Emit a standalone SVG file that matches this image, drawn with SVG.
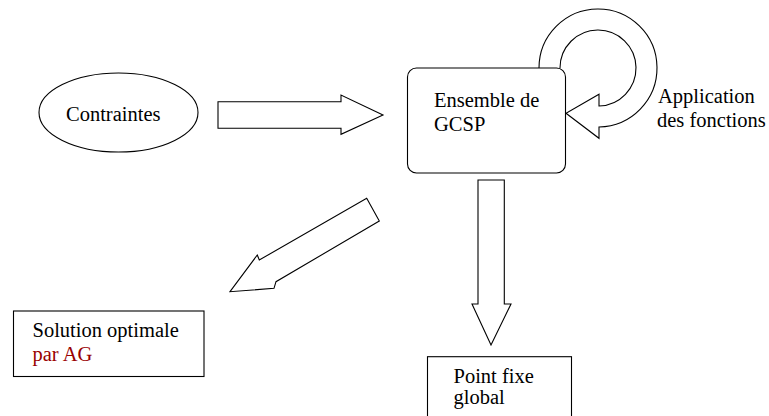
<svg xmlns="http://www.w3.org/2000/svg" width="769" height="416" viewBox="0 0 769 416">
<style>
.s{fill:#fff;stroke:#000;stroke-width:1.1}
.t{font-family:"Liberation Serif","Times New Roman",serif;font-size:20.5px;fill:#000}
.r{fill:#990000}
</style>
<rect width="769" height="416" fill="#fff"/>
<g id="connectors">
<path class="s" d="M218 101.7 L341 101.7 L341 95 L383 115 L341 134.3 L341 128.3 L218 128.3 Z"/>
<path class="s" d="M366.7 198.3 L379.3 221 L276 281.7 L274 288.3 L230 291.7 L257.3 255 L259.3 260 Z"/>
<path class="s" d="M478 180 L504.3 180 L504.3 304 L511 304 L491 345 L472 304 L478 304 Z"/>
<path class="s" d="M539 68 A59 59 0 1 1 599 127 L599 138.3 L566 113.3 L599 94.3 L599 106 A38 38 0 1 0 560 68"/>
</g>
<g id="contraintes">
<ellipse class="s" cx="118.5" cy="112.5" rx="79.5" ry="39.5"/>
<text class="t" x="66" y="121">Contraintes</text>
</g>
<g id="gcsp">
<rect class="s" x="407.5" y="68" width="158" height="105" rx="9"/>
<text class="t" x="434" y="107">Ensemble de</text>
<text class="t" x="434" y="131">GCSP</text>
</g>
<g id="application">
<text class="t" x="658" y="103">Application</text>
<text class="t" x="657" y="127">des fonctions</text>
</g>
<g id="solution">
<rect class="s" x="13.5" y="311" width="190.5" height="65.5"/>
<text class="t" x="32.5" y="337">Solution optimale</text>
<text class="t r" x="32.5" y="361">par AG</text>
</g>
<g id="pointfixe">
<rect class="s" x="427.5" y="356.7" width="144" height="70"/>
<text class="t" x="453.5" y="383">Point fixe</text>
<text class="t" x="453.5" y="404">global</text>
</g>
</svg>
